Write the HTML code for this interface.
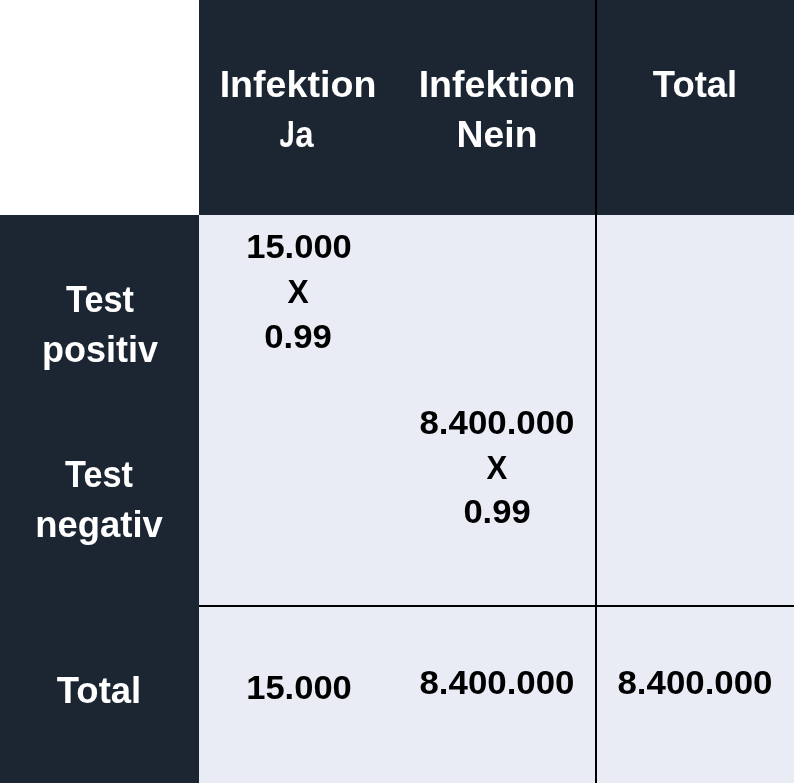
<!DOCTYPE html>
<html lang="de">
<head>
<meta charset="utf-8">
<title>Vierfeldertafel</title>
<style>
html,body{margin:0;padding:0;background:#fff;}
body{width:796px;height:784px;position:relative;overflow:hidden;font-family:"Liberation Sans",sans-serif;font-weight:bold;}
table{position:absolute;left:0;top:0;width:794px;height:783px;border-collapse:collapse;border-spacing:0;table-layout:fixed;}
td,th{position:relative;padding:0;margin:0;border:0;overflow:visible;font-weight:bold;}
.dark{background:#1c2532;color:#fff;}
.light{background:#e9ebf5;color:#000;}
.none{background:#fff;}
.t{position:absolute;white-space:nowrap;line-height:1;transform-origin:50% 50%;}
.h{font-size:37.5px;}
.b{font-size:33.5px;}
.j{display:inline-block;transform:scaleX(.8);transform-origin:100% 50%;clip-path:polygon(62% 0,100% 0,100% 100%,12% 100%,12% 36%,62% 36%);}
.a{display:inline-block;transform:scaleX(.88);transform-origin:0 50%;}
.vline{position:absolute;left:595px;top:0;width:2px;height:783px;background:#000;}
.hline{position:absolute;left:199px;top:605px;width:595px;height:2px;background:#000;}
</style>
</head>
<body>
<table>
<colgroup><col style="width:199px"><col style="width:198px"><col style="width:198px"><col style="width:199px"></colgroup>
<tr style="height:215px">
  <th class="none"></th>
  <th class="dark">
    <div id="h1a" class="t h" style="left:99.20px;top:66px;transform:translateX(-50%) scaleX(1.003)">Infektion</div>
    <div id="h1b" class="t h" style="left:96.20px;top:116px;transform:translateX(-50%) scaleX(1.0)"><span class="j">J</span><span class="a">a</span></div>
  </th>
  <th class="dark">
    <div id="h2a" class="t h" style="left:99.75px;top:66px;transform:translateX(-50%) scaleX(1.003)">Infektion</div>
    <div id="h2b" class="t h" style="left:99.70px;top:116px;transform:translateX(-50%) scaleX(0.995)">Nein</div>
  </th>
  <th class="dark">
    <div id="h3" class="t h" style="left:100.00px;top:66px;transform:translateX(-50%) scaleX(0.972)">Total</div>
  </th>
</tr>
<tr style="height:185px">
  <th class="dark">
    <div id="l1a" class="t h" style="left:99.70px;top:66px;transform:translateX(-50%) scaleX(0.913)">Test</div>
    <div id="l1b" class="t h" style="left:99.80px;top:116px;transform:translateX(-50%) scaleX(0.96)">positiv</div>
  </th>
  <td class="light">
    <div id="b1a" class="t b" style="left:99.90px;top:15px;transform:translateX(-50%) scaleX(1.03)">15.000</div>
    <div id="b1b" class="t b" style="left:99.10px;top:60px;transform:translateX(-50%) scaleX(0.95)">X</div>
    <div id="b1c" class="t b" style="left:98.70px;top:105px;transform:translateX(-50%) scaleX(1.035)">0.99</div>
  </td>
  <td class="light"></td>
  <td class="light"></td>
</tr>
<tr style="height:206px">
  <th class="dark">
    <div id="l2a" class="t h" style="left:99.25px;top:56px;transform:translateX(-50%) scaleX(0.913)">Test</div>
    <div id="l2b" class="t h" style="left:99.30px;top:106px;transform:translateX(-50%) scaleX(0.972)">negativ</div>
  </th>
  <td class="light"></td>
  <td class="light">
    <div id="b2a" class="t b" style="left:99.90px;top:6px;transform:translateX(-50%) scaleX(1.04)">8.400.000</div>
    <div id="b2b" class="t b" style="left:99.85px;top:51px;transform:translateX(-50%) scaleX(0.93)">X</div>
    <div id="b2c" class="t b" style="left:99.70px;top:95px;transform:translateX(-50%) scaleX(1.03)">0.99</div>
  </td>
  <td class="light"></td>
</tr>
<tr style="height:177px">
  <th class="dark">
    <div id="l3" class="t h" style="left:99.30px;top:66px;transform:translateX(-50%) scaleX(0.973)">Total</div>
  </th>
  <td class="light">
    <div id="t1" class="t b" style="left:100.10px;top:65px;transform:translateX(-50%) scaleX(1.03)">15.000</div>
  </td>
  <td class="light">
    <div id="t2" class="t b" style="left:99.90px;top:60px;transform:translateX(-50%) scaleX(1.04)">8.400.000</div>
  </td>
  <td class="light">
    <div id="t3" class="t b" style="left:100.30px;top:60px;transform:translateX(-50%) scaleX(1.04)">8.400.000</div>
  </td>
</tr>
</table>
<div class="vline"></div>
<div class="hline"></div>
</body>
</html>
